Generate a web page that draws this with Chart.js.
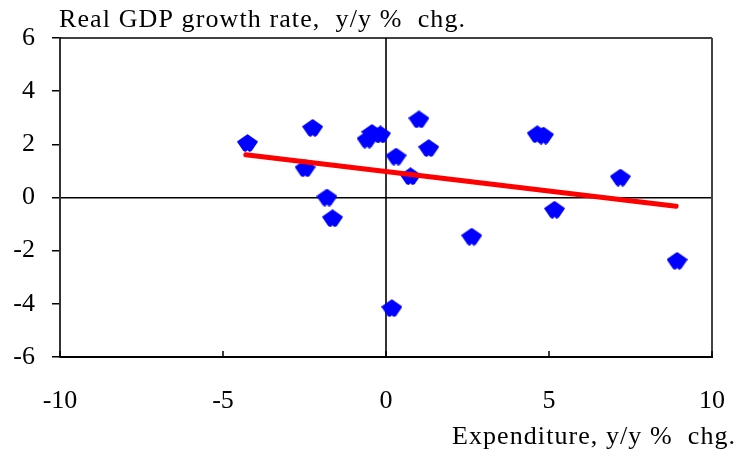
<!DOCTYPE html>
<html>
<head>
<meta charset="utf-8">
<script src="https://cdn.jsdelivr.net/npm/chart.js@4.4.1/dist/chart.umd.min.js"></script>
<style>
  html, body { margin: 0; padding: 0; background: #fff; }
  canvas { display: block; }
</style>
</head>
<body>
<canvas id="chart" width="741" height="462"></canvas>
<script>
// Expenditure growth vs real GDP growth, y/y % chg.
const expenditure = [-4.25, -2.25, -2.48, -1.81, -1.64, -0.58, -0.43, -0.17, 0.31, 0.75,
  1.01, 1.31, 0.18, 2.63, 4.64, 4.83, 7.19, 5.17, 8.93];
const gdpGrowth = [2.05, 2.62, 1.10, 0.00, -0.78, 2.18, 2.43, 2.37, 1.54, 0.80,
  2.94, 1.86, -4.16, -1.47, 2.38, 2.33, 0.75, -0.46, -2.38];

// trend line end points
const trendX = [-4.3, 8.9];
const trendY = [1.61, -0.33];

const xTicks = [-10, -5, 0, 5, 10];
const yTicks = [-6, -4, -2, 0, 2, 4, 6];

const yTitle = 'Real GDP growth rate,  y/y %  chg.';
const xTitle = 'Expenditure, y/y %  chg.';

const serif = '"Liberation Serif", "Times New Roman", serif';

// diamond marker with rounded corners and a small notch at the bottom
function makeMarker() {
  const c = document.createElement('canvas');
  c.width = 21;
  c.height = 18;
  const g = c.getContext('2d');
  g.fillStyle = '#0000ff';
  g.strokeStyle = '#0000ff';
  g.lineJoin = 'round';
  g.lineWidth = 2;
  g.beginPath();
  g.moveTo(10.5, 1.2);
  g.lineTo(19.8, 7.8);
  g.lineTo(14, 16.2);
  g.lineTo(12.6, 16.8);
  g.lineTo(10.5, 14.8);
  g.lineTo(8.4, 16.8);
  g.lineTo(7, 16.2);
  g.lineTo(1.2, 7.8);
  g.closePath();
  g.fill();
  g.stroke();
  return c;
}

const marker = makeMarker();

const points = expenditure.map((x, i) => ({ x: x, y: gdpGrowth[i] }));
const trend = trendX.map((x, i) => ({ x: x, y: trendY[i] }));

// stretch a caption to the width it has in the original
function spacedText(ctx, text, x, y, width, align) {
  ctx.letterSpacing = '0px';
  const w = ctx.measureText(text).width;
  const extra = Math.max(0, (width - w) / (text.length - 1));
  ctx.letterSpacing = extra.toFixed(2) + 'px';
  ctx.textAlign = 'left';
  const start = align === 'right' ? x - width : x;
  ctx.fillText(text, start, y);
  ctx.letterSpacing = '0px';
}

// frame, inward x ticks and the two axis captions
const decorations = {
  id: 'decorations',
  afterDraw(chart) {
    const { ctx, chartArea: a, scales } = chart;
    ctx.save();
    ctx.strokeStyle = '#000';
    ctx.lineWidth = 1.5;
    ctx.beginPath();
    ctx.moveTo(a.left, a.top);
    ctx.lineTo(a.right, a.top);
    ctx.stroke();
    ctx.strokeStyle = '#444';
    ctx.lineWidth = 2;
    ctx.beginPath();
    ctx.moveTo(a.right, a.top);
    ctx.lineTo(a.right, a.bottom);
    ctx.stroke();

    ctx.strokeStyle = '#000';
    ctx.lineWidth = 1.5;
    xTicks.forEach(v => {
      const px = scales.x.getPixelForValue(v);
      ctx.beginPath();
      ctx.moveTo(px, a.bottom);
      ctx.lineTo(px, a.bottom - 6);
      ctx.stroke();
    });

    ctx.fillStyle = '#000';
    ctx.font = '26px ' + serif;
    ctx.textBaseline = 'alphabetic';
    spacedText(ctx, yTitle, 59, 27, 406, 'left');
    spacedText(ctx, xTitle, 735, 444, 283, 'right');
    ctx.restore();
  }
};

new Chart(document.getElementById('chart'), {
  type: 'scatter',
  data: {
    datasets: [
      {
        label: 'Trend',
        data: trend,
        showLine: true,
        borderColor: '#ff0000',
        backgroundColor: '#ff0000',
        borderWidth: 5,
        borderCapStyle: 'round',
        pointRadius: 0,
        pointHoverRadius: 0
      },
      {
        label: 'Countries',
        data: points,
        pointStyle: marker,
        pointRadius: 10,
        pointHoverRadius: 10
      }
    ]
  },
  options: {
    responsive: false,
    animation: false,
    layout: { padding: { top: 38, right: 29, left: 0, bottom: 0 } },
    plugins: {
      legend: { display: false },
      tooltip: { enabled: false }
    },
    scales: {
      x: {
        type: 'linear',
        min: -10,
        max: 10,
        afterBuildTicks: s => { s.ticks = xTicks.map(v => ({ value: v })); },
        afterFit: s => {
          s.height = 105;
          s.paddingLeft = 0;
          s.paddingRight = 0;
        },
        border: { display: true, color: '#000', width: 2 },
        grid: {
          color: c => (c.tick && c.tick.value === 0 ? '#333' : 'transparent'),
          lineWidth: 2,
          drawTicks: false
        },
        ticks: {
          color: '#000',
          padding: 29,
          font: { family: serif, size: 26 }
        }
      },
      y: {
        type: 'linear',
        min: -6,
        max: 6,
        afterBuildTicks: s => { s.ticks = yTicks.map(v => ({ value: v })); },
        afterFit: s => { s.width = 60; },
        border: { display: true, color: '#333', width: 2 },
        grid: {
          color: c => (c.tick && c.tick.value === 0 ? '#000' : 'transparent'),
          lineWidth: 1.5,
          drawTicks: true,
          tickLength: 8,
          tickColor: '#000'
        },
        ticks: {
          color: '#000',
          padding: 17,
          font: { family: serif, size: 26 }
        }
      }
    }
  },
  plugins: [decorations]
});
</script>
</body>
</html>
